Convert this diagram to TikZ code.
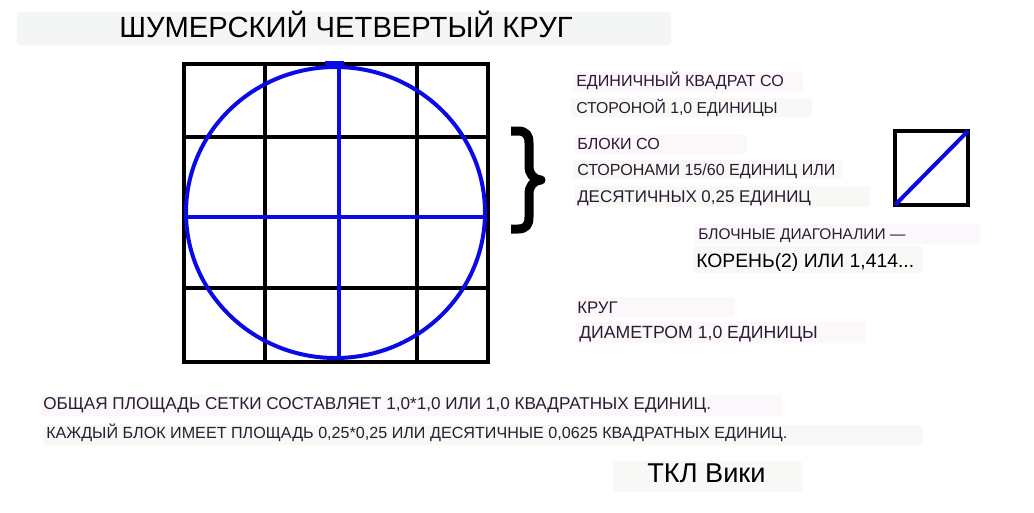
\documentclass[tikz,border=0pt]{standalone}
\usepackage{fontspec}
\setmainfont{Liberation Sans}
\definecolor{txtc}{HTML}{2A1D31}
\definecolor{boxg}{HTML}{F4F6F6}
\definecolor{boxp}{HTML}{FBF7FA}
\definecolor{boxn}{HTML}{F8F8F7}
\definecolor{blu}{HTML}{0A0AE6}
\newcommand{\fsz}[1]{\fontsize{#1}{#1}\selectfont}
\tikzset{
  lbl/.style={anchor=base west, inner sep=0pt, text=txtc, font=\fsz{12}},
  bg/.style={rounded corners=2.25pt, draw=none},
  gridline/.style={line width=3.2pt, black},
  blueline/.style={line width=3pt, blu},
}
\begin{document}
\begin{tikzpicture}[x=0.75pt,y=-0.75pt]
\useasboundingbox[fill=white] (0,0) rectangle (1034,512);
% background boxes
\fill[bg,boxg] (17,12) rectangle (671,45);
\fill[bg,boxp] (573,72) rectangle (803,92);
\fill[bg,boxn] (571,98) rectangle (812,117);
\fill[bg,boxp] (575,135) rectangle (747,154);
\fill[bg,boxn] (573,160) rectangle (842,179);
\fill[bg,boxn] (575,186) rectangle (870,207);
\fill[bg,boxp] (695,224) rectangle (980,244);
\fill[bg,boxn] (693,246) rectangle (923,273);
\fill[bg,boxp] (576,297) rectangle (735,317);
\fill[bg,boxp] (576,322) rectangle (865,343);
\fill[bg,boxp] (41,395) rectangle (782,416);
\fill[bg,boxn] (43,425) rectangle (923,445);
\fill[bg,boxn] (613,461) rectangle (802,492);
% title
\node[anchor=base west, inner sep=0pt, font=\fsz{21.9}] (title) at (119,37) {ШУМЕРСКИЙ ЧЕТВЕРТЫЙ КРУГ};
% grid
\draw[gridline] (184,64) rectangle (488,362);
\draw[gridline] (265,64) -- (265,362);
\draw[gridline] (417,64) -- (417,362);
\draw[gridline] (339,64) -- (339,362);
\draw[gridline] (184,137) -- (488,137);
\draw[gridline] (184,288) -- (488,288);
\draw[gridline] (184,217) -- (488,217);
% circle and diameters
\draw[blueline] (335.5,212.5) ellipse [x radius=149.5, y radius=145.5];
\draw[blueline] (339,63) -- (339,358);
\draw[blueline] (325,63) -- (344,63);
\draw[blueline] (186,217) -- (487,217);
% brace
\draw[line width=6.75pt, line cap=butt, line join=round] (511,131) -- (518,131) .. controls (526,131) and (529,135) .. (529,143) -- (529,166) .. controls (529,174) and (533,179) .. (541,180) .. controls (533,181) and (529,186) .. (529,194) -- (529,217) .. controls (529,225) and (526,229) .. (518,229) -- (511,229);
% small square with diagonal
\draw[gridline] (895,131) rectangle (968,205);
\draw[blueline] (895,205) -- (968,131);
% right labels
\node[lbl, font=\fsz{12.05}] (r1) at (576,86) {ЕДИНИЧНЫЙ КВАДРАТ СО};
\node[lbl, font=\fsz{11.85}] (r2) at (576,113) {СТОРОНОЙ 1,0 ЕДИНИЦЫ};
\node[lbl, font=\fsz{12.05}] (r3) at (577,149) {БЛОКИ СО};
\node[lbl, font=\fsz{12.05}] (r4) at (577,175) {СТОРОНАМИ 15/60 ЕДИНИЦ ИЛИ};
\node[lbl, font=\fsz{12.7}] (r5) at (577,202) {ДЕСЯТИЧНЫХ 0,25 ЕДИНИЦ};
\node[lbl, font=\fsz{11.6}] (r6) at (698,239) {БЛОЧНЫЕ ДИАГОНАЛИИ —};
\node[lbl, text=black, font=\fsz{14.5}] (r7) at (696,267) {КОРЕНЬ(2) ИЛИ 1,414...};
\node[lbl, font=\fsz{12.6}] (r8) at (577,313) {КРУГ};
\node[lbl, font=\fsz{13.25}] (r9) at (579,338) {ДИАМЕТРОМ 1,0 ЕДИНИЦЫ};
% bottom labels
\node[lbl, font=\fsz{12.85}] (b1) at (43,409) {ОБЩАЯ ПЛОЩАДЬ СЕТКИ СОСТАВЛЯЕТ 1,0*1,0 ИЛИ 1,0 КВАДРАТНЫХ ЕДИНИЦ.};
\node[lbl, font=\fsz{12.1}] (b2) at (46,438) {КАЖДЫЙ БЛОК ИМЕЕТ ПЛОЩАДЬ 0,25*0,25 ИЛИ ДЕСЯТИЧНЫЕ 0,0625 КВАДРАТНЫХ ЕДИНИЦ.};
\node[anchor=base west, inner sep=0pt, font=\fsz{20.4}] (sig) at (647,482) {ТКЛ Вики};
\end{tikzpicture}
\end{document}
